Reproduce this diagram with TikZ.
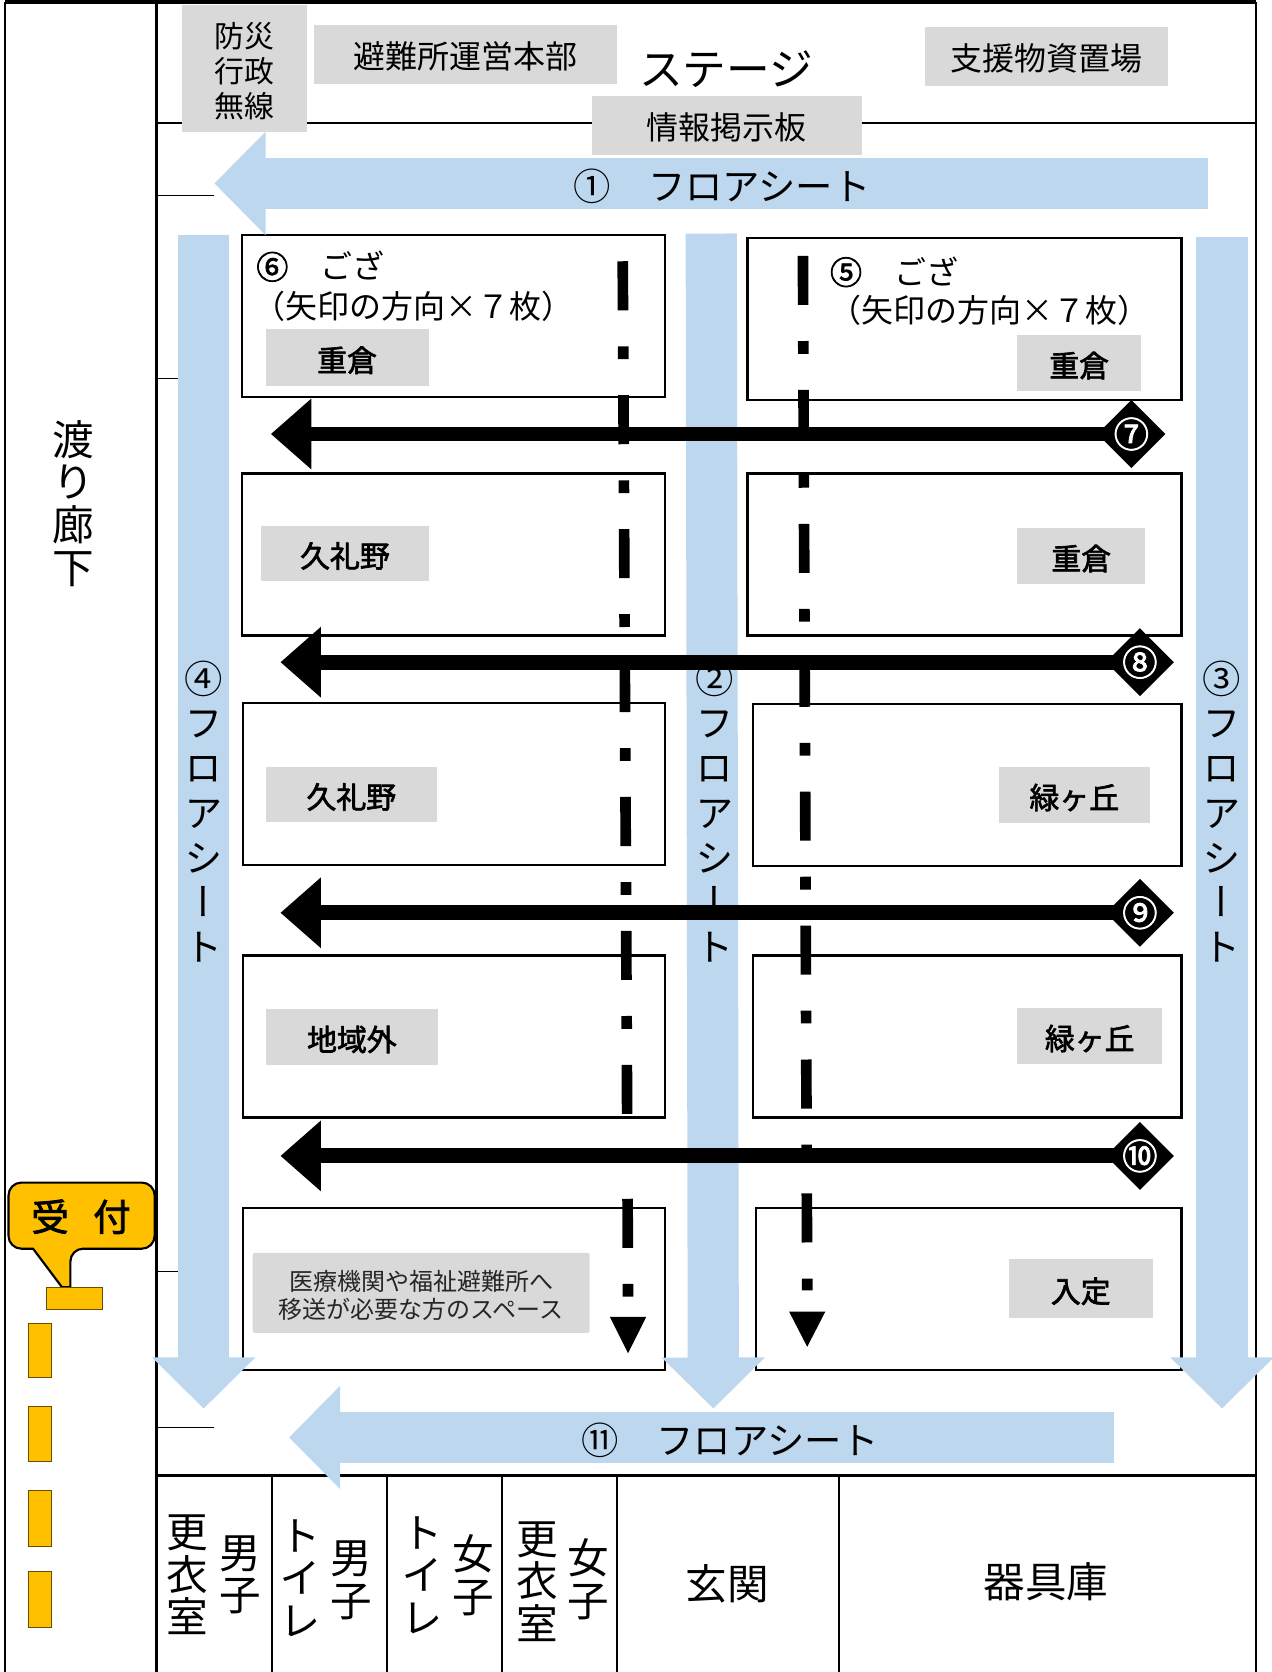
\documentclass[tikz,border=0pt]{standalone}
\usepackage{fontspec}
\setmainfont{Noto Sans CJK JP}
\newfontfamily\vertfont{Noto Sans CJK JP}[RawFeature={+vert}]
\newfontfamily\heavyfont{Noto Sans CJK JP}[FakeBold=2.2]
\usetikzlibrary{arrows.meta, shapes}
\definecolor{sheetblue}{HTML}{BDD7EE}
\definecolor{tagrey}{HTML}{D9D9D9}
\definecolor{deskamber}{HTML}{FFC000}
\tikzset{
	mat/.style={draw=black,line width=1pt,fill=white},
	wall/.style={draw=black,line width=1pt},
	thin tick/.style={draw=black,line width=0.4pt},
	sheet/.style={sheetblue,line width=24pt,-{Triangle[length=24pt,width=47pt]}},
	aisle/.style={black,line width=7pt,-{Triangle[length=19pt,width=32pt]}},
	badge/.style={shape=diamond,fill=black,inner sep=0pt,minimum size=32pt},
	badgetext/.style={inner sep=0pt,text=white,font=\fontsize{16.5}{16.5}\selectfont\heavyfont},
	tag/.style={fill=tagrey,inner sep=0pt,text height=13.4pt,text depth=0pt,font=\fontsize{15}{18}\selectfont},
	areatag/.style={fill=tagrey,inner sep=0pt,text height=13pt,text depth=0pt,font=\fontsize{14}{16}\selectfont\heavyfont},
	roomtext/.style={inner sep=0pt,align=center,font=\fontsize{19.5}{20}\selectfont\vertfont},
	sheettext/.style={inner sep=0pt,align=center,font=\fontsize{18}{21}\selectfont\vertfont},
	flat/.style={inner sep=0pt,font=\fontsize{17.5}{18}\selectfont},
	spine/.style={black,line width=5pt,dash pattern=on 23pt off 16.9pt on 6pt off 16.9pt},
	pad/.style={fill=deskamber,draw=black!60!deskamber,line width=0.5pt},
}
\begin{document}
\begin{tikzpicture}[x=0.5pt,y=-0.5pt]
	\useasboundingbox (0,0) rectangle (1192,1568);
	% walls
	\draw[line width=2pt] (5,2) -- (1178,2);
	\draw[line width=1pt] (5,2) -- (5,1568);
	\draw[line width=1.5pt] (147,2) -- (147,1568);
	\draw[line width=1pt] (1178,2) -- (1178,1568);
	\draw[wall] (147,115) -- (1178,115);
	\draw[line width=1.5pt] (147,1384) -- (1178,1384);
	\draw[wall] (255,1384) -- (255,1568);
	\draw[wall] (363,1384) -- (363,1568);
	\draw[wall] (471,1384) -- (471,1568);
	\draw[wall] (579,1384) -- (579,1568);
	\draw[wall] (787,1384) -- (787,1568);
	\draw[thin tick] (147,183) -- (201,183);
	\draw[thin tick] (147,355) -- (167,355);
	\draw[thin tick] (147,1192) -- (167,1192);
	\draw[thin tick] (147,1339) -- (201,1339);
	% mats
	\draw[mat] (227,220) rectangle (624,372);
	\draw[mat] (701,223) rectangle (1108,375);
	\draw[mat] (227,444) rectangle (624,596);
	\draw[mat] (701,444) rectangle (1108,596);
	\draw[mat] (228,659) rectangle (624,811);
	\draw[mat] (706,660) rectangle (1108,812);
	\draw[mat] (228,896) rectangle (624,1048);
	\draw[mat] (706,896) rectangle (1108,1048);
	\draw[mat] (228,1133) rectangle (624,1285);
	\draw[mat] (709,1133) rectangle (1108,1285);
	% floor sheets
	\coordinate (sheet1a) at (1133,172);
	\coordinate (sheet1b) at (201,172);
	\coordinate (sheet2a) at (667,219);
	\coordinate (sheet2b) at (669,1321);
	\coordinate (sheet3a) at (1146,222);
	\coordinate (sheet3b) at (1146,1321);
	\coordinate (sheet4a) at (191,220);
	\coordinate (sheet4b) at (191,1321);
	\coordinate (sheet11a) at (1045,1348);
	\coordinate (sheet11b) at (271,1348);
	\draw[sheet] (sheet1a) -- (sheet1b);
	\draw[sheet] (sheet2a) -- (sheet2b);
	\draw[sheet] (sheet3a) -- (sheet3b);
	\draw[sheet] (sheet4a) -- (sheet4b);
	\draw[sheet] (sheet11a) -- (sheet11b);
	\node[flat] (label1) at (677,174.5) {①　フロアシート};
	\node[flat] (label11) at (685,1350.5) {⑪　フロアシート};
	\node[sheettext] (label2) at (670,761) {②\\フ\\ロ\\ア\\シ\\ー\\ト};
	\node[sheettext] (label3) at (1146,761) {③\\フ\\ロ\\ア\\シ\\ー\\ト};
	\node[sheettext] (label4) at (191,761) {④\\フ\\ロ\\ア\\シ\\ー\\ト};
	% top row
	\node[fill=tagrey,inner sep=0pt,minimum width=58.5pt,minimum height=59.5pt,align=center,font=\fontsize{14}{16.5}\selectfont] (radio) at (229.5,64.5) {\rule{0pt}{14.3pt}防災\\行政\\無線};
	\node[tag,minimum width=142.5pt,minimum height=28pt] (office) at (436.5,51) {避難所運営本部};
	\node[inner sep=0pt,font=\fontsize{20.5}{21}\selectfont] (stage) at (681,65) {ステージ};
	\node[tag,minimum width=114pt,minimum height=28pt] (supply) at (981,53) {支援物資置場};
	\node[tag,minimum width=126.5pt,minimum height=27.5pt] (board) at (681.5,117.5) {情報掲示板};
	% mat texts
	\node[inner sep=0pt,anchor=west,font=\fontsize{15}{15}\selectfont] (goza6) at (240,250) {{\heavyfont ⑥}　ござ};
	\node[inner sep=0pt,font=\fontsize{15}{15}\selectfont] (note6) at (388,287) {（矢印の方向×７枚）};
	\node[inner sep=0pt,anchor=west,font=\fontsize{15}{15}\selectfont] (goza5) at (778,255) {{\heavyfont ⑤}　ござ};
	\node[inner sep=0pt,font=\fontsize{15}{15}\selectfont] (note5) at (928,291) {（矢印の方向×７枚）};
	\node[areatag,minimum width=76.5pt,minimum height=26.5pt] (areaA) at (325.5,335.5) {重倉};
	\node[areatag,minimum width=58pt,minimum height=26.5pt] (areaB) at (1012,340.5) {重倉};
	\node[areatag,minimum width=78.5pt,minimum height=26pt] (areaC) at (323.5,519) {久礼野};
	\node[areatag,minimum width=60pt,minimum height=26.5pt] (areaD) at (1014,521.5) {重倉};
	\node[areatag,minimum width=80.5pt,minimum height=26pt] (areaE) at (329.5,745) {久礼野};
	\node[areatag,minimum width=70.5pt,minimum height=26.5pt] (areaF) at (1007.5,745.5) {緑ヶ丘};
	\node[areatag,minimum width=81pt,minimum height=26.5pt] (areaG) at (330,972.5) {地域外};
	\node[areatag,minimum width=68pt,minimum height=26.5pt] (areaH) at (1022,971.5) {緑ヶ丘};
	\node[fill=tagrey,inner sep=0pt,minimum width=158pt,minimum height=37.5pt,align=center,rounded corners=1pt,text=black!85,font=\fontsize{11.25}{13}\selectfont] (medical) at (395,1212.5) {\rule{0pt}{11.9pt}医療機関や福祉避難所へ\\移送が必要な方のスペース};
	\node[areatag,minimum width=67.5pt,minimum height=27.5pt] (areaI) at (1013.5,1208.5) {入定};
	% aisles
	\node[badge] (num7) at (1061,407) {};
	\node[badge] (num8) at (1069,621) {};
	\node[badge] (num9) at (1069,856) {};
	\node[badge] (num10) at (1069,1084) {};
	\coordinate (tip7) at (254,407);
	\coordinate (tip8) at (263,621);
	\coordinate (tip9) at (263,856);
	\coordinate (tip10) at (263,1084);
	\draw[aisle] (num7.center) -- (tip7);
	\draw[aisle] (num8.center) -- (tip8);
	\draw[aisle] (num9.center) -- (tip9);
	\draw[aisle] (num10.center) -- (tip10);
	\node[badgetext] (text7) at (num7) {⑦};
	\node[badgetext] (text8) at (num8) {⑧};
	\node[badgetext] (text9) at (num9) {⑨};
	\node[badgetext] (text10) at (num10) {⑩};
	% direction of the mats
	\coordinate (spineLa) at (584,245);
	\coordinate (spineLb) at (589,1216);
	\coordinate (spineRa) at (753,240);
	\coordinate (spineRb) at (757,1210);
	\draw[spine] (spineLa) -- (spineLb);
	\draw[spine] (spineRa) -- (spineRb);
	\fill[black] (572,1235) -- (606,1235) -- (589,1269) -- cycle;
	\fill[black] (740,1230) -- (774,1230) -- (757,1263) -- cycle;
	% rooms
	\node[roomtext] (changeM) at (176,1477) {更\\衣\\室};
	\node[roomtext] (boysA) at (225,1477) {男\\子};
	\node[roomtext] (toiletM) at (282,1480) {ト\\イ\\レ};
	\node[roomtext] (boysB) at (329,1482) {男\\子};
	\node[roomtext] (toiletF) at (396,1477) {ト\\イ\\レ};
	\node[roomtext] (girlsA) at (444,1477) {女\\子};
	\node[roomtext] (changeF) at (504,1483) {更\\衣\\室};
	\node[roomtext] (girlsB) at (552,1481) {女\\子};
	\node[inner sep=0pt,font=\fontsize{19.5}{20}\selectfont] (entrance) at (682,1485) {玄関};
	\node[inner sep=0pt,font=\fontsize{19.5}{20}\selectfont] (store) at (981,1483) {器具庫};
	\node[roomtext] (corridor) at (69,472) {渡\\り\\廊\\下};
	% reception
	\draw[fill=deskamber,line width=1pt,rounded corners=6pt] (8,1109) -- (145,1109) -- (145,1171) -- (66,1171) [sharp corners] -- (66,1207) -- (58,1207) -- (31,1171) [rounded corners=6pt] -- (8,1171) -- cycle;
	\node[inner sep=0pt,font=\fontsize{17.5}{18}\selectfont\heavyfont] (desk) at (76,1141) {受\hspace{11.5pt}付};
	\draw[pad] (44,1207) rectangle (96,1228);
	\draw[pad] (27,1241) rectangle (48,1292);
	\draw[pad] (27,1319) rectangle (48,1371);
	\draw[pad] (27,1398) rectangle (48,1450);
	\draw[pad] (27,1474) rectangle (48,1526);
\end{tikzpicture}
\end{document}
